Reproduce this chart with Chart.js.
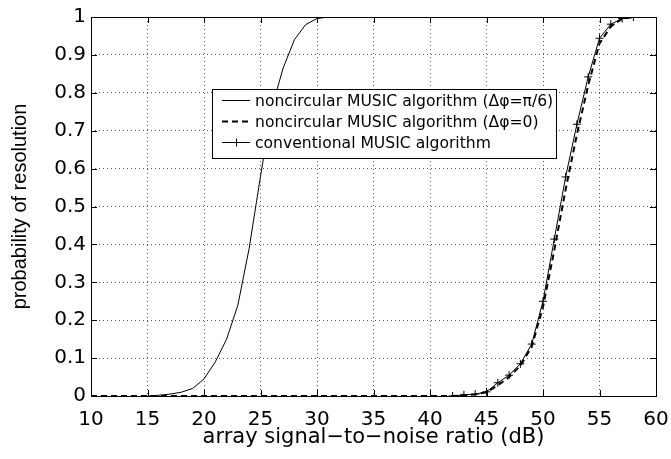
<!DOCTYPE html>
<html>
<head>
<meta charset="utf-8">
<script src="https://cdn.jsdelivr.net/npm/chart.js@4.4.0/dist/chart.umd.min.js"></script>
<style>
  html, body { margin: 0; padding: 0; background: #fff; }
  #wrap { width: 671px; height: 459px; }
</style>
</head>
<body>
<div id="wrap"><canvas id="chart"></canvas></div>
<script>
// === DATOS ===
const pi6Snr = [15, 16, 17, 18, 19, 20, 21, 22, 23, 24, 25, 26, 27, 28, 29, 30, 31, 60];
const pi6Prob = [0, 0.002, 0.005, 0.01, 0.02, 0.045, 0.09, 0.15, 0.24, 0.39, 0.58, 0.76, 0.865, 0.94, 0.98, 0.996, 1, 1];

const zeroSnr = [10, 42, 43, 44, 45, 46, 47, 48, 49, 50, 51, 52, 53, 54, 55, 56, 57, 58];
const zeroProb = [0, 0, 0.002, 0.004, 0.01, 0.028, 0.05, 0.08, 0.13, 0.235, 0.385, 0.545, 0.69, 0.82, 0.93, 0.975, 0.995, 1];

const convSnr = [42, 43, 44, 45, 46, 47, 48, 49, 50, 51, 52, 53, 54, 55, 56, 57, 58];
const convProb = [0, 0.003, 0.005, 0.011, 0.035, 0.055, 0.085, 0.137, 0.25, 0.414, 0.578, 0.717, 0.842, 0.944, 0.981, 0.996, 1];

const legendLabels = [
  "noncircular MUSIC algorithm (\u0394\u03c6=\u03c0/6)",
  "noncircular MUSIC algorithm (\u0394\u03c6=0)",
  "conventional MUSIC algorithm"
];

function toPoints(xs, ys) {
  return xs.map((x, i) => ({ x: x, y: ys[i] }));
}

const WIDE = "'DejaVu Sans', Verdana, sans-serif";
const NARROW = "'Liberation Sans', Arial, Helvetica, sans-serif";

// === TICKS HACIA DENTRO, MARCO Y LEYENDA ===
const matlabBox = {
  id: "matlabBox",
  afterDraw(chart) {
    const ctx = chart.ctx;
    const a = chart.chartArea;
    const xs = chart.scales.x, ys = chart.scales.y;
    ctx.save();
    ctx.strokeStyle = "#000";
    ctx.lineWidth = 1;
    ctx.setLineDash([]);
    ctx.beginPath();
    xs.ticks.forEach(t => {
      const px = Math.round(xs.getPixelForValue(t.value)) + 0.5;
      ctx.moveTo(px, a.bottom); ctx.lineTo(px, a.bottom - 6);
      ctx.moveTo(px, a.top); ctx.lineTo(px, a.top + 6);
    });
    ys.ticks.forEach(t => {
      const py = Math.round(ys.getPixelForValue(t.value)) + 0.5;
      ctx.moveTo(a.left, py); ctx.lineTo(a.left + 6, py);
      ctx.moveTo(a.right, py); ctx.lineTo(a.right - 6, py);
    });
    ctx.stroke();
    ctx.strokeRect(Math.round(a.left) + 0.5, Math.round(a.top) + 0.5,
      Math.round(a.right - a.left), Math.round(a.bottom - a.top));

    // leyenda
    const bx = 212.5, by = 89.5, bw = 344, bh = 69;
    ctx.fillStyle = "#fff";
    ctx.fillRect(bx, by, bw, bh);
    ctx.strokeRect(bx, by, bw, bh);
    ctx.font = "15.6px " + WIDE;
    ctx.fillStyle = "#000";
    ctx.textBaseline = "middle";
    const rows = [100.5, 121.5, 142.5];
    rows.forEach((ry, i) => {
      ctx.beginPath();
      if (i === 1) { ctx.setLineDash([6, 4]); ctx.lineWidth = 2; }
      else { ctx.setLineDash([]); ctx.lineWidth = 1; }
      ctx.moveTo(222, ry); ctx.lineTo(250, ry);
      ctx.stroke();
      if (i === 2) {
        ctx.setLineDash([]); ctx.lineWidth = 1;
        ctx.beginPath();
        ctx.moveTo(236.5, ry - 4); ctx.lineTo(236.5, ry + 4);
        ctx.moveTo(232, ry); ctx.lineTo(241, ry);
        ctx.stroke();
      }
      ctx.fillText(legendLabels[i], 255, ry + 1);
    });
    ctx.restore();
  }
};

new Chart(document.getElementById("chart"), {
  type: "line",
  data: {
    datasets: [
      {
        label: legendLabels[0],
        data: toPoints(pi6Snr, pi6Prob),
        borderColor: "#000", borderWidth: 1, pointRadius: 0, tension: 0,
      },
      {
        label: legendLabels[1],
        data: toPoints(zeroSnr, zeroProb),
        borderColor: "#000", borderWidth: 2, borderDash: [6, 4], pointRadius: 0, tension: 0,
      },
      {
        label: legendLabels[2],
        data: toPoints(convSnr, convProb),
        borderColor: "#000", borderWidth: 1, tension: 0,
        pointStyle: "cross", pointRadius: 4, pointBorderWidth: 1, pointBorderColor: "#000",
      },
    ],
  },
  options: {
    responsive: true,
    maintainAspectRatio: false,
    animation: false,
    events: [],
    layout: { padding: { top: 11, right: 15, left: 0, bottom: 0 } },
    plugins: { legend: { display: false }, tooltip: { enabled: false } },
    scales: {
      x: {
        type: "linear", min: 10, max: 60,
        afterFit(s) { s.height = 63; s.paddingRight = 0; s.paddingLeft = 0; },
        ticks: { stepSize: 5, color: "#000", font: { family: WIDE, size: 20 }, padding: 12, maxRotation: 0 },
        grid: { color: "#555", drawTicks: false },
        border: { display: false, dash: [1, 3] },
        title: { display: true, text: "array signal\u2212to\u2212noise ratio (dB)", color: "#000",
                 font: { family: WIDE, size: 21 }, padding: { top: 0, bottom: 9 } },
      },
      y: {
        min: 0, max: 1,
        afterFit(s) { s.width = 91; },
        ticks: {
          stepSize: 0.1, color: "#000", font: { family: WIDE, size: 20 }, padding: 5,
          callback: v => String(Number(v.toFixed(1))),
        },
        grid: { color: "#555", drawTicks: false },
        border: { display: false, dash: [1, 3] },
        title: { display: true, text: "probability of resolution", color: "#000",
                 font: { family: NARROW, size: 20 }, padding: { top: 8, bottom: 0 } },
      },
    },
  },
  plugins: [matlabBox],
});
</script>
</body>
</html>
